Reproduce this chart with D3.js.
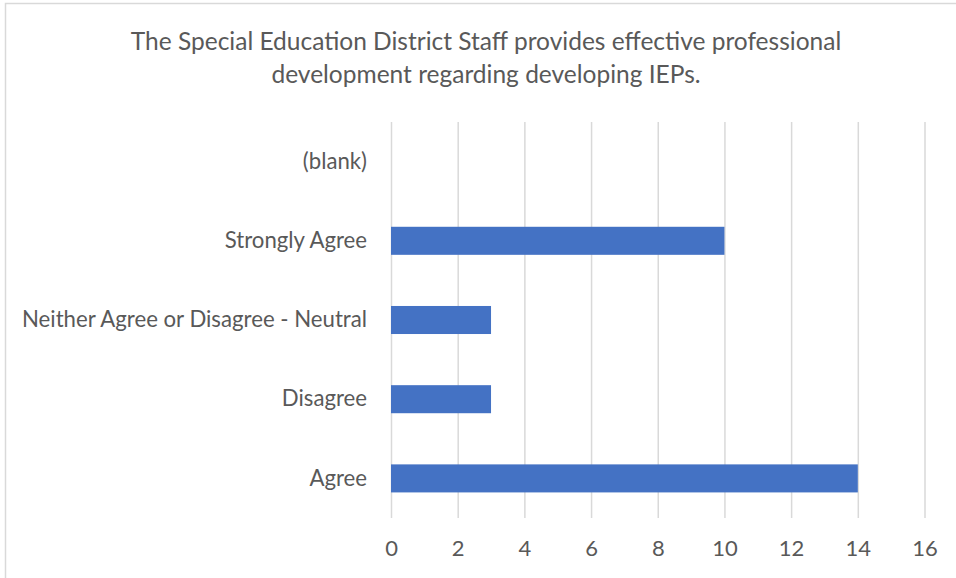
<!DOCTYPE html>
<html><head><meta charset="utf-8">
<script src="https://cdn.jsdelivr.net/npm/d3@7"></script>
<style>body{margin:0;background:#fff}svg{display:block}</style>
</head><body><svg id="c" width="956" height="578"></svg>
<script>
const titleLines = ["The Special Education District Staff provides effective professional", "development regarding developing IEPs."];
const categories = ["(blank)", "Strongly Agree", "Neither Agree or Disagree - Neutral", "Disagree", "Agree"];
const values = [null, 10, 3, 3, 14];
const xTicks = [0, 2, 4, 6, 8, 10, 12, 14, 16];

const FONT = "Lato, 'Open Sans', sans-serif";
const svg = d3.select("#c");
const m = {left: 391, right: 924.5, top: 122, bottom: 518};

svg.append("rect").attr("x", 5.5).attr("y", 3.5).attr("width", 1000).attr("height", 1000)
  .attr("fill", "#fff").attr("stroke", "#d9d9d9").attr("stroke-width", 1.5);

const x = d3.scaleLinear().domain([0, 16]).range([m.left, m.right]);
const y = d3.scaleBand().domain(categories).range([m.top, m.bottom]).paddingInner(0.646).paddingOuter(0.323);

const gx = svg.append("g").attr("transform", `translate(0,${m.bottom})`)
  .call(d3.axisBottom(x).tickValues(xTicks).tickSize(-(m.bottom - m.top)).tickPadding(22).tickFormat(d3.format("d")));
gx.select(".domain").remove();
gx.selectAll("line").attr("stroke", "#d9d9d9").attr("stroke-width", 1.5);
gx.selectAll("text").attr("fill", "#595959").attr("font-family", FONT).attr("font-size", 22);

const gy = svg.append("g").attr("transform", `translate(${m.left},0)`)
  .call(d3.axisLeft(y).tickSize(0).tickPadding(24));
gy.select(".domain").remove();
gy.selectAll("text").attr("fill", "#595959").attr("font-family", FONT).attr("font-size", 22.2);

svg.append("g").selectAll("rect").data(categories.map((c, i) => ({c, v: values[i]})).filter(d => d.v != null))
  .join("rect")
  .attr("x", x(0)).attr("y", d => y(d.c))
  .attr("width", d => x(d.v) - x(0)).attr("height", y.bandwidth())
  .attr("fill", "#4472c4");

svg.append("text").attr("x", 486).attr("y", 50).attr("text-anchor", "middle")
  .attr("fill", "#595959").attr("font-family", FONT).attr("font-size", 24.5)
  .selectAll("tspan").data(titleLines).join("tspan")
  .attr("x", 486).attr("dy", (d, i) => i ? 33 : 0).text(d => d);
</script></body></html>
